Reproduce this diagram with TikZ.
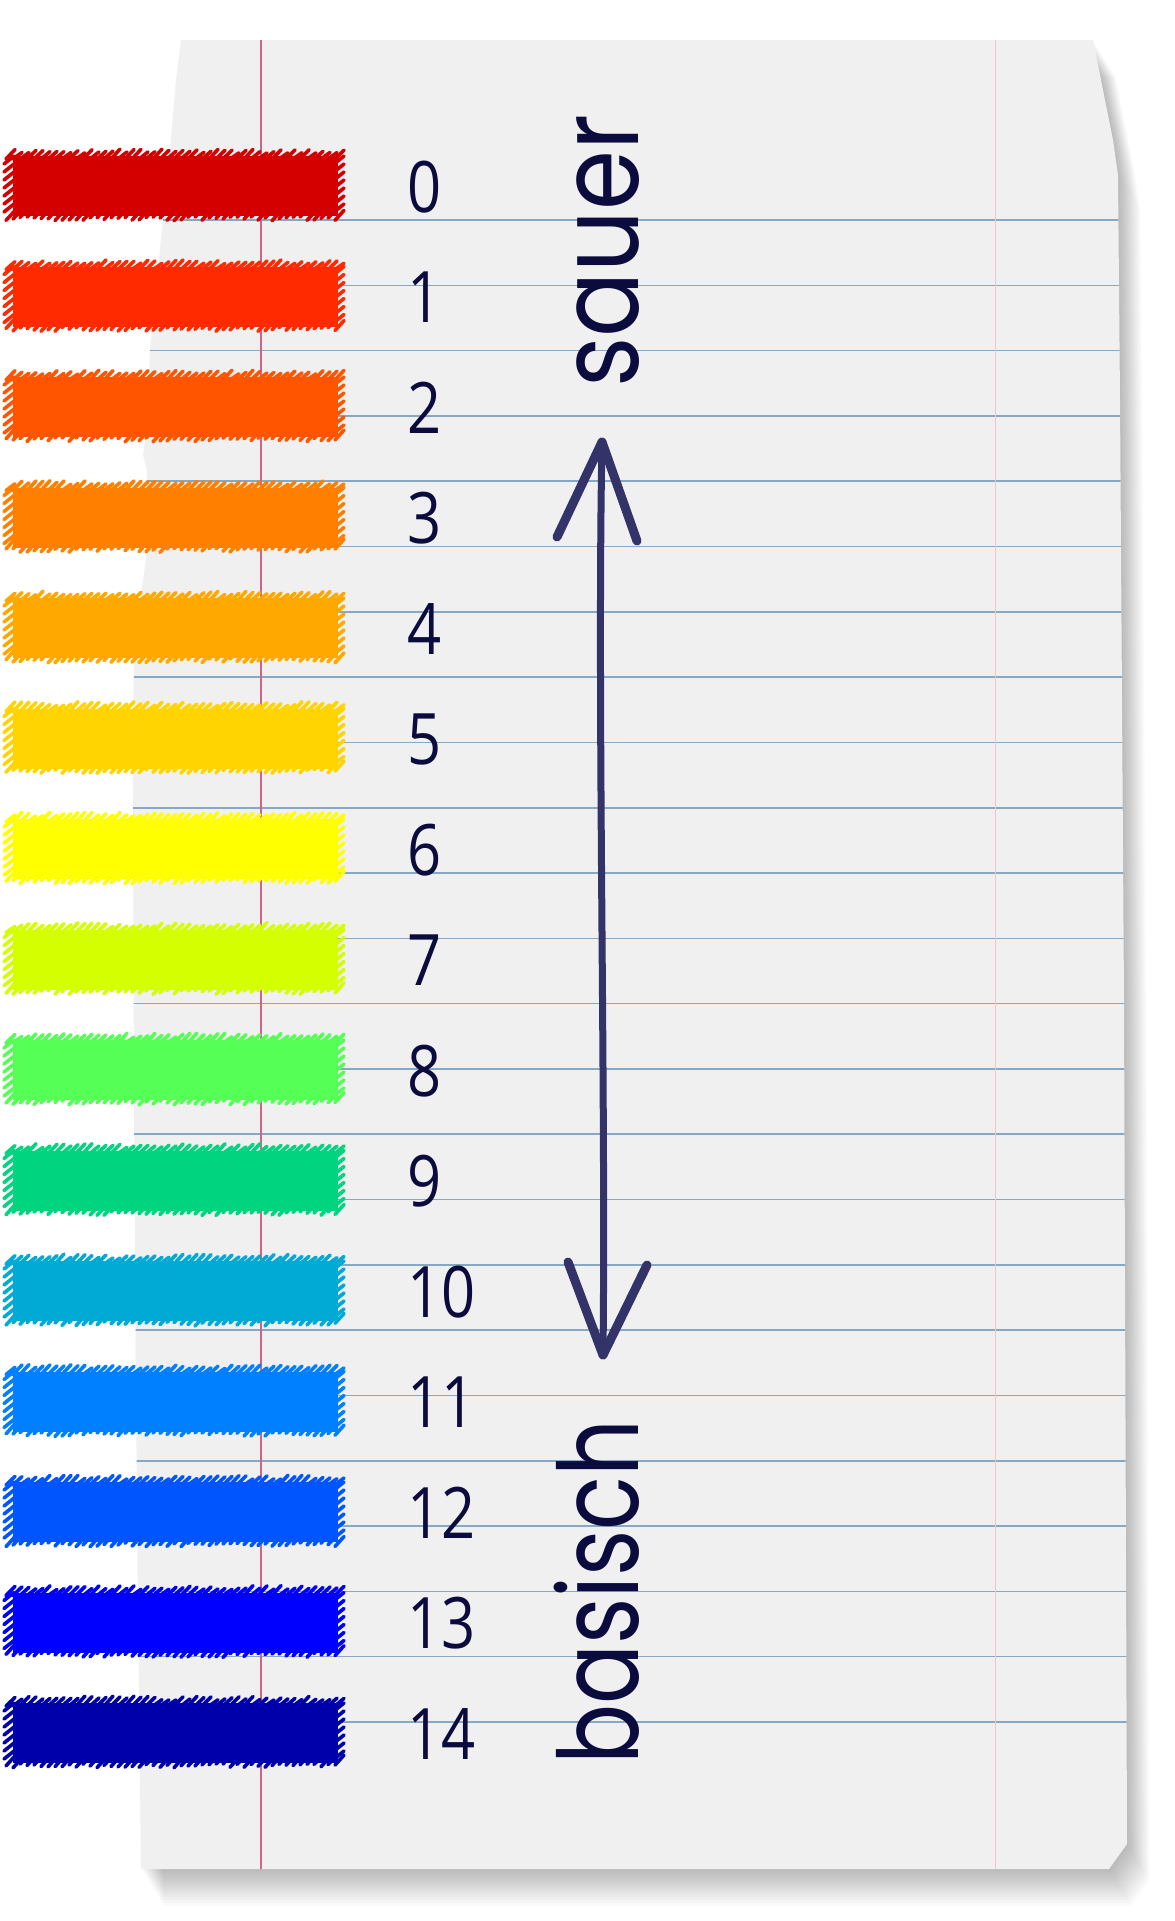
\documentclass[tikz,border=0pt]{standalone}
\usepackage{fontspec}
\newfontfamily\handdigits{Open Sans}
\newfontfamily\handwords{Poppins}
\definecolor{ink}{HTML}{0B0B3E}
\definecolor{arrowcol}{HTML}{33336A}
\definecolor{paperfill}{HTML}{F0F0F1}
\definecolor{ruled}{HTML}{86A8C2}
\definecolor{margin}{HTML}{CC6688}
\definecolor{rmargin}{HTML}{F2C4CC}
\definecolor{ph0}{HTML}{D40000}
\definecolor{ph1}{HTML}{FF2A00}
\definecolor{ph2}{HTML}{FF5500}
\definecolor{ph3}{HTML}{FF7F00}
\definecolor{ph4}{HTML}{FFA800}
\definecolor{ph5}{HTML}{FFD400}
\definecolor{ph6}{HTML}{FFFF00}
\definecolor{ph7}{HTML}{D4FF00}
\definecolor{ph8}{HTML}{55FF55}
\definecolor{ph9}{HTML}{00D47F}
\definecolor{ph10}{HTML}{00AAD4}
\definecolor{ph11}{HTML}{0080FF}
\definecolor{ph12}{HTML}{0055FF}
\definecolor{ph13}{HTML}{0000FF}
\definecolor{ph14}{HTML}{0000AA}
\begin{document}
\begin{tikzpicture}[x=1bp,y=-1bp,
  paper/.style={insert path={(181,40) -- (1093,40) -- (1113,140) -- (1118,175) -- (1120,400) -- (1124,1000) -- (1127,1844) -- (1109,1869) -- (141,1869) -- (138,1600) -- (136,1400) -- (134,1100) -- (133,800) -- (134,640) -- (140,600) -- (146,560) -- (147,470) -- (143,455) -- (148,420) -- (150,350) -- (160,250) -- (170,150) -- (176,80) -- cycle}},
  bar/.style={rectangle, minimum width=325bp, minimum height=60bp, inner sep=0pt},
  scrib/.style={line width=3.6bp, line cap=round},
  digit/.style={anchor=west, inner sep=0pt, text=ink, font=\handdigits\fontsize{71bp}{71bp}\selectfont},
  word/.style={anchor=base west, inner sep=0pt, rotate=90, text=ink, font=\handwords\fontsize{111bp}{111bp}\selectfont},
  arrowline/.style={draw=arrowcol, line width=7bp, line cap=round, line join=round},
  barb/.style={draw=arrowcol, line width=9bp, line cap=round}
]
\useasboundingbox (0,0) rectangle (1174,1921);
\fill[white] (0,0) rectangle (1174,1921);
% shadow
\foreach \s in {1,...,14} {
  \fill[black, opacity=0.02, shift={({1.6*\s},{2.6*\s})}, paper];
}
% paper
\fill[paperfill, paper];
\begin{scope}
  \path[paper, clip];
  \foreach \k in {0,...,23} {
    \draw[ruled, line width=1.6bp] (120,{220+65.3*\k}) -- (1140,{220+65.3*\k});
  }
  \draw[margin, line width=1.3bp] (261,30) -- (261,1880);
  \draw[rmargin, line width=1bp] (995,30) -- (995,1880);
\end{scope}
% colour bars
\pgfmathsetseed{7}
\foreach \i in {0,...,14} {
  \pgfmathsetmacro{\cy}{186+110.5*\i}
  \node[bar, fill=ph\i] (bar\i) at (175.5,\cy) {};
  \foreach \x in {6,13,...,335} {
    \pgfmathsetmacro{\ra}{rnd*4}
    \pgfmathsetmacro{\rb}{rnd*4}
    \draw[scrib, ph\i] (\x,{\cy-27}) -- ++(9,{-6-\ra});
    \draw[scrib, ph\i] (\x,{\cy+35-\rb}) -- ++(9,-10);
  }
  \foreach \yy in {-26,-18,...,26} {
    \draw[scrib, ph\i] (4,{\cy+\yy+4}) -- ++(10,-8);
    \draw[scrib, ph\i] (334,{\cy+\yy+4}) -- ++(10,-8);
  }
}
% digits
\foreach \i in {0,...,14} {
  \node[digit] (n\i) at (407,{187+110.5*\i}) {\scalebox{0.84}[1]{\i}};
}
% words
\node[word] (sauer) at (638,388) {\scalebox{0.87}[1]{sauer}};
\node[word] (basisch) at (638,1765) {\scalebox{0.8}[1]{basisch}};
% arrow
\coordinate (atop) at (602,442);
\coordinate (abot) at (603,1355);
\coordinate (tl) at (557,537);
\coordinate (tr) at (637,541);
\coordinate (bl) at (568,1262);
\coordinate (br) at (647,1265);
\draw[arrowline] (atop) .. controls (597,700) and (606,1100) .. (abot);
\draw[barb] (atop) -- (tl);
\draw[barb] (atop) -- (tr);
\draw[barb] (abot) -- (bl);
\draw[barb] (abot) -- (br);
\end{tikzpicture}
\end{document}
